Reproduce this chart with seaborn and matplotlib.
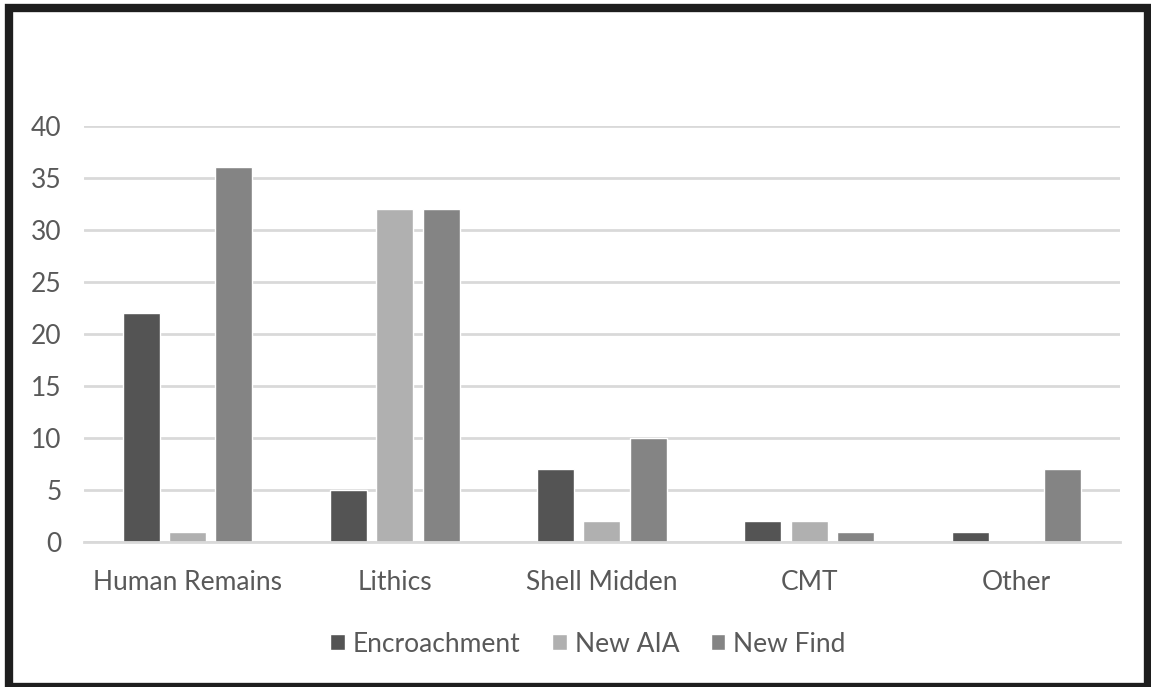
import matplotlib
matplotlib.use("Agg")
import matplotlib.pyplot as plt
from matplotlib.patches import Rectangle
import seaborn as sns
import pandas as pd

categories = ["Human Remains", "Lithics", "Shell Midden", "CMT", "Other"]
encroachment = [22, 5, 7, 2, 1]
new_aia = [1, 32, 2, 2, 0]
new_find = [36, 32, 10, 1, 7]
series_names = ["Encroachment", "New AIA", "New Find"]
series_colors = ["#545454", "#b0b0b0", "#848484"]
y_ticks = [0, 5, 10, 15, 20, 25, 30, 35, 40]

rows = []
for name, vals in zip(series_names, [encroachment, new_aia, new_find]):
    for cat, v in zip(categories, vals):
        rows.append({"Category": cat, "Series": name, "Count": v})
df = pd.DataFrame(rows)

sns.set_theme(style="white")
plt.rcParams["font.family"] = ["Lato", "DejaVu Sans"]
text_color = "#595959"

fig = plt.figure(figsize=(11.51, 6.87), dpi=100)
ax = fig.add_axes([0.073, 0.211, 0.900, 0.606])

sns.barplot(data=df, x="Category", y="Count", hue="Series",
            hue_order=series_names, palette=series_colors,
            width=0.67, gap=0.2, saturation=1, ax=ax, legend=True)

ax.set_ylim(0, 40)
ax.set_yticks(y_ticks)
ax.set_xlim(-0.5, len(categories) - 0.5)
ax.yaxis.grid(True, color="#d9d9d9", linewidth=2)
ax.set_axisbelow(True)
for side in ["top", "right", "left"]:
    ax.spines[side].set_visible(False)
ax.spines["bottom"].set_color("#d9d9d9")
ax.spines["bottom"].set_linewidth(2)
ax.set_xlabel("")
ax.set_ylabel("")
ax.tick_params(axis="both", length=0, labelsize=19, labelcolor=text_color)
ax.tick_params(axis="x", pad=20)
ax.tick_params(axis="y", pad=16)

handles, labels = ax.get_legend_handles_labels()
ax.legend(handles, labels, loc="center", bbox_to_anchor=(0.4865, -0.245),
          ncol=3, frameon=False, fontsize=19, labelcolor=text_color,
          handlelength=0.55, handleheight=0.55, handletextpad=0.3,
          columnspacing=1.2)

fig.patches.append(Rectangle((0.0075, 0.0), 0.9895, 0.988, transform=fig.transFigure,
                             fill=False, edgecolor="#1e1e1e", linewidth=6))

fig.savefig("out.png", dpi=100)
